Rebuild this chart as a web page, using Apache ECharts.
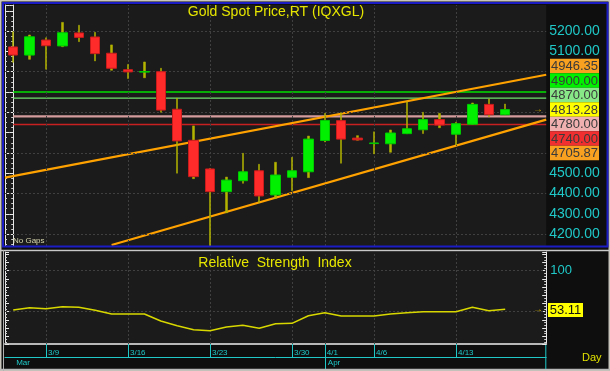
<!DOCTYPE html>
<html><head><meta charset="utf-8">
<script src="https://cdn.jsdelivr.net/npm/echarts@6/dist/echarts.min.js"></script>
<style>html,body{margin:0;padding:0;background:#101010;}#c{width:610px;height:371px;}</style>
</head><body><div id="c"></div>
<script>
// ---- data ----
const dates = ['3/5','3/6','3/9','3/10','3/11','3/12','3/13','3/16','3/17','3/18','3/19','3/20','3/23','3/24','3/25','3/26','3/27','3/30','3/31','4/1','4/2','4/3','4/6','4/7','4/8','4/9','4/10','4/13','4/14','4/15','4/16'];
const opens  = [5122,5082,5156,5127,5191,5171,5091,5010,4998,5000,4815,4662,4521,4409,4463,4512,4393,4480,4507,4661,4759,4673,4646,4645,4695,4714,4764,4692,4741,4839,4788];
const closes = [5082,5172,5128,5192,5169,5089,5017,4999,5001,4811,4659,4483,4409,4466,4507,4388,4491,4512,4668,4760,4668,4664,4649,4698,4719,4764,4737,4744,4839,4788,4813.28];
const lows   = [5046,5061,5012,5123,5148,5053,5007,4966,4970,4800,4500,4473,4142,4305,4450,4355,4376,4414,4478,4654,4549,4662,4595,4603,4694,4695,4724,4639,4740,4778,4787];
const highs  = [5197,5181,5167,5243,5229,5194,5132,5036,5048,5017,4869,4733,4524,4481,4598,4544,4554,4578,4683,4795,4798,4685,4704,4713,4852,4800,4795,4751,4846,4866,4841];
const rsi    = [52.1,54.9,53.7,56.1,55.4,51.7,47.2,47.2,47.2,38.7,32.9,28.0,26.8,31.3,33.4,29.8,35.4,35.8,45.1,48.8,44.8,44.8,44.8,47.2,48.8,50.0,50.0,50.0,55.4,51.2,53.11];
const upperTrend = [[-0.5,4478],[32.5,4985]];
const lowerTrend = [[6,4146],[32.5,4764]];
const levelValues = [4900,4870,4780,4740];
const levelColors = ['#00e000','#70e070','#d49c9c','#c82020'];
const priceTickLabels = [5200,5100,4500,4400,4300,4200];
const priceGridValues = [5200,5000,4800,4600,4400,4200];
const rsiTickLabels = [100,50];
const dateTicks = ['3/9','3/16','3/23','3/30','4/1','4/6','4/13'];
const monthStarts = ['3/5','4/1'];
const monthNames = ['Mar','Apr'];
const boxTexts = ['4946.35','4900.00','4870.00','4813.28','4780.00','4740.00','4705.87'];
const boxColors = ['#f8a020','#00f000','#88e888','#ffff00','#f0b0b0','#f03030','#f8a020'];
const rsiLast = '53.11';

// ---- chart ----
const FONT = 'Liberation Sans, Arial, sans-serif';
const cats = dates.concat([' ', '  ']);
const bodyData = dates.map((d,i)=>[opens[i],closes[i],Math.min(opens[i],closes[i]),Math.max(opens[i],closes[i])]);
const wickData = dates.map((d,i)=>[lows[i],highs[i],lows[i],highs[i]]);
const near = (list,v)=>list.some(p=>Math.abs(p-v)<1e-6);
const CYAN = '#20c8c8';
const gridLine = {color:'#404040', type:[2,2], width:1};

const graphics = [];
graphics.push({type:'rect', z:100, shape:{x:0.5,y:0.5,width:609,height:370}, style:{fill:null, stroke:'#c8c4bc', lineWidth:2}});
graphics.push({type:'rect', z:100, shape:{x:3,y:3,width:604.5,height:243.5}, style:{fill:null, stroke:'#1c1cc4', lineWidth:2}});
graphics.push({type:'line', z:100, shape:{x1:0,y1:250.5,x2:610,y2:250.5}, style:{stroke:'#c8c8c8', lineWidth:1.5}});
graphics.push({type:'line', z:100, shape:{x1:3.5,y1:250,x2:3.5,y2:371}, style:{stroke:'#b0b0b0', lineWidth:1}});
graphics.push({type:'line', z:100, shape:{x1:0,y1:369.5,x2:610,y2:369.5}, style:{stroke:'#b8b8b8', lineWidth:1.5}});
graphics.push({type:'line', z:100, shape:{x1:545.8,y1:345,x2:545.8,y2:369}, style:{stroke:CYAN, lineWidth:1}});
graphics.push({type:'text', z:100, style:{text:'Gold Spot Price,RT (IQXGL)', x:276, y:12, align:'center', verticalAlign:'middle', textAlign:'center', textVerticalAlign:'middle', fill:'#e6e600', font:'14px '+FONT}});
graphics.push({type:'text', z:100, style:{text:'Relative  Strength  Index', x:275, y:263, align:'center', verticalAlign:'middle', textAlign:'center', textVerticalAlign:'middle', fill:'#e6e600', font:'14px '+FONT}});
graphics.push({type:'text', z:100, style:{text:'No Gaps', x:13, y:241, verticalAlign:'middle', textVerticalAlign:'middle', fill:'#d8d8b0', font:'8px '+FONT}});
graphics.push({type:'text', z:100, style:{text:'Day', x:582, y:358, verticalAlign:'middle', textVerticalAlign:'middle', fill:'#e0e000', font:'11px '+FONT}});
// stacked price boxes (last price box sits at its own level, others stacked around it)
const BOX_H = 14.5, anchorY = 109.6, anchorIdx = 3;
boxTexts.forEach((t,i)=>{
  const cy = anchorY + (i-anchorIdx)*BOX_H;
  graphics.push({type:'rect', z:101, shape:{x:550,y:cy-BOX_H/2,width:49,height:BOX_H}, style:{fill:boxColors[i]}});
  graphics.push({type:'text', z:102, style:{text:t, x:574.5, y:cy+0.5, align:'center', verticalAlign:'middle', textAlign:'center', textVerticalAlign:'middle', fill:'#3a3a3a', font:'13px '+FONT}});
});
graphics.push({type:'rect', z:101, shape:{x:548,y:303,width:35,height:14}, style:{fill:'#ffff00'}});
graphics.push({type:'text', z:102, style:{text:rsiLast, x:565.5, y:310.5, align:'center', verticalAlign:'middle', textAlign:'center', textVerticalAlign:'middle', fill:'#111', font:'13px '+FONT}});

const lastIdx = cats.length - 1;
const option = {
  backgroundColor:'#0e0e0e',
  animation:false,
  grid:[
    {left:5, top:5, width:541.2, height:241, show:true, backgroundColor:'#1b1b1b', borderWidth:0},
    {left:5, top:252, width:541.2, height:92, show:true, backgroundColor:'#1b1b1b', borderWidth:0}
  ],
  xAxis:[
    {type:'category', gridIndex:0, data:cats, boundaryGap:true, axisLine:{show:false}, axisTick:{show:false}, axisLabel:{show:false}, splitLine:{show:false}},
    {type:'value', gridIndex:0, min:-0.5, max:32.5, show:false},
    {type:'category', gridIndex:1, data:cats, boundaryGap:true, position:'bottom',
      axisLine:{show:true, lineStyle:{color:'#b8b8b8', width:2}},
      axisTick:{show:true, alignWithLabel:true, length:13, interval:(i,v)=>dateTicks.includes(v), lineStyle:{color:CYAN, width:1}},
      axisLabel:{show:true, interval:(i,v)=>dateTicks.includes(v), align:'left', margin:5, padding:[0,0,0,2], color:CYAN, fontSize:8, fontFamily:FONT},
      splitLine:{show:false}},
    {type:'category', gridIndex:1, data:cats, boundaryGap:true, position:'bottom', offset:13,
      axisLine:{show:true, lineStyle:{color:CYAN, width:1}},
      axisTick:{show:true, alignWithLabel:true, length:12, interval:(i,v)=>monthStarts.includes(v) && i>0, lineStyle:{color:CYAN, width:1}},
      axisLabel:{show:true, interval:(i,v)=>monthStarts.includes(v), formatter:v=>monthNames[monthStarts.indexOf(v)] || '', align:'left', margin:2, padding:[0,0,0,3], color:CYAN, fontSize:8, fontFamily:FONT},
      splitLine:{show:false}}
  ],
  yAxis:[
    {type:'value', gridIndex:0, position:'right', min:4141.4, max:5328.6, splitNumber:12,
      axisLine:{show:true, lineStyle:{color:'#e8e8e8', width:1}},
      axisTick:{show:true, inside:true, length:4, lineStyle:{color:'#e8e8e8'}},
      minorTick:{show:true, splitNumber:4, length:2, lineStyle:{color:'#d0d0d0'}},
      axisLabel:{show:true, margin:3, color:CYAN, fontSize:14, fontFamily:FONT, formatter:v=>near(priceTickLabels,v)?v.toFixed(2):''},
      splitLine:{show:false}},
    {type:'value', gridIndex:0, position:'left', min:4141.4, max:5328.6, splitNumber:12,
      axisLine:{show:true, lineStyle:{color:'#e8e8e8', width:1}},
      axisTick:{show:true, inside:true, length:4, lineStyle:{color:'#e8e8e8'}},
      minorTick:{show:true, splitNumber:4, length:2, lineStyle:{color:'#d0d0d0'}},
      axisLabel:{show:false}, splitLine:{show:false}},
    {type:'value', gridIndex:1, position:'right', min:10.6, max:122.8, splitNumber:11,
      axisLine:{show:true, lineStyle:{color:'#e8e8e8', width:1}},
      axisTick:{show:true, inside:true, length:4, lineStyle:{color:'#e8e8e8'}},
      minorTick:{show:true, splitNumber:3, length:2, lineStyle:{color:'#d0d0d0'}},
      axisLabel:{show:true, margin:4, color:CYAN, fontSize:13, fontFamily:FONT, formatter:v=>near(rsiTickLabels,v)?String(Math.round(v)):''},
      splitLine:{show:false}},
    {type:'value', gridIndex:1, position:'left', min:10.6, max:122.8, splitNumber:11,
      axisLine:{show:true, lineStyle:{color:'#e8e8e8', width:1}},
      axisTick:{show:true, inside:true, length:4, lineStyle:{color:'#e8e8e8'}},
      minorTick:{show:true, splitNumber:3, length:2, lineStyle:{color:'#d0d0d0'}},
      axisLabel:{show:false}, splitLine:{show:false}}
  ],
  series:[
    {type:'line', xAxisIndex:0, yAxisIndex:0, data:[], z:1, silent:true,
      markLine:{silent:true, symbol:'none', label:{show:false}, lineStyle:gridLine, animation:false,
        data: priceGridValues.map(v=>({yAxis:v})).concat(dateTicks.map(d=>({xAxis:d})))}},
    {type:'line', xAxisIndex:2, yAxisIndex:2, data:[], z:1, silent:true,
      markLine:{silent:true, symbol:'none', label:{show:false}, lineStyle:gridLine, animation:false,
        data: rsiTickLabels.map(v=>({yAxis:v})).concat(dateTicks.map(d=>({xAxis:d})))}},
    ...levelValues.map((v,i)=>({type:'line', xAxisIndex:1, yAxisIndex:0, z:3, symbol:'none', silent:true,
      data:[[0,v],[32.5,v]], lineStyle:{color:levelColors[i], width:(v===4780?2.2:1.4)}})),
    {type:'line', xAxisIndex:1, yAxisIndex:0, z:4, symbol:'none', silent:true, data:upperTrend, lineStyle:{color:'#ffa200', width:2.2}},
    {type:'line', xAxisIndex:1, yAxisIndex:0, z:4, symbol:'none', silent:true, data:lowerTrend, lineStyle:{color:'#ffa200', width:2.2}},
    {type:'candlestick', xAxisIndex:0, yAxisIndex:0, z:5, barWidth:2, data:wickData,
      itemStyle:{color:'#b4b400', color0:'#b4b400', borderColor:'#b4b400', borderColor0:'#b4b400', borderWidth:0.5}},
    {type:'candlestick', xAxisIndex:0, yAxisIndex:0, z:6, barWidth:10, data:bodyData,
      itemStyle:{color:'#00f000', color0:'#ff2a2a', borderColor:'#00c800', borderColor0:'#c81c1c', borderWidth:1}},
    {type:'scatter', xAxisIndex:0, yAxisIndex:0, z:7, symbolSize:1, itemStyle:{color:'rgba(0,0,0,0)'},
      data:[[lastIdx, closes[closes.length-1]]], label:{show:true, position:'inside', formatter:'→', color:'#e8c000', fontSize:10}},
    {type:'line', xAxisIndex:2, yAxisIndex:2, z:5, symbol:'none', data:rsi, lineStyle:{color:'#d8d800', width:1.5}},
    {type:'scatter', xAxisIndex:2, yAxisIndex:2, z:7, symbolSize:1, itemStyle:{color:'rgba(0,0,0,0)'},
      data:[[lastIdx, rsi[rsi.length-1]]], label:{show:true, position:'inside', formatter:'→', color:'#e8c000', fontSize:10}}
  ],
  graphic: graphics
};
const chart = echarts.init(document.getElementById('c'));
chart.setOption(option);
</script>
</body></html>
